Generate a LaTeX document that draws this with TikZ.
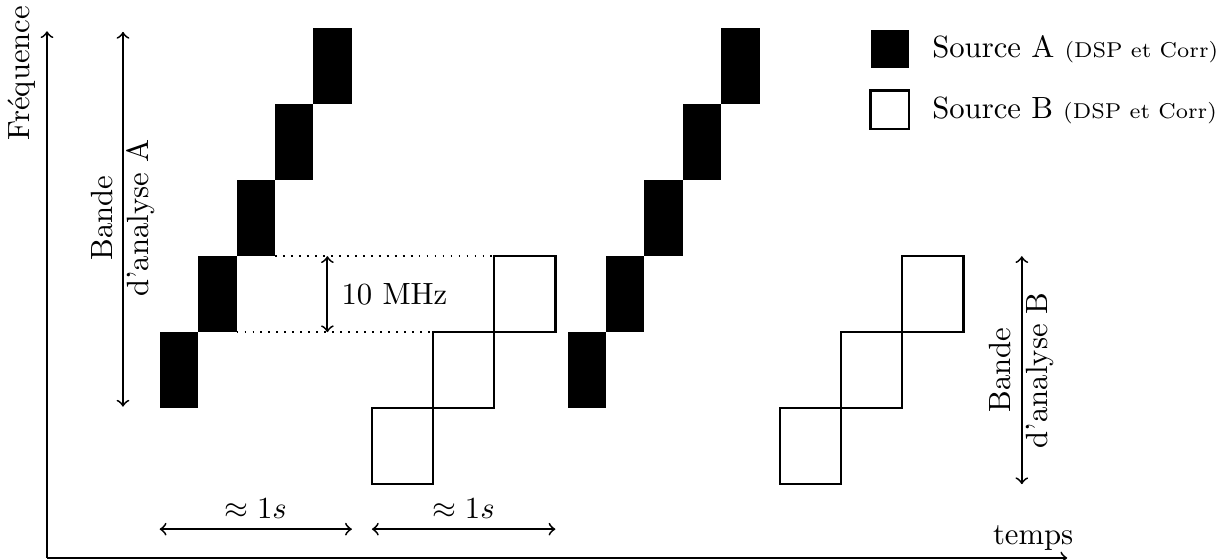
\documentclass[tikz,border=0pt]{standalone}
\usepackage{amsmath}
\usepackage{amssymb}
\usepackage{tikz}
\usetikzlibrary{positioning,calc}

\begin{document}
\begin{tikzpicture}[
  x=1cm, y=1cm,
  blocA/.style={fill=black, inner sep=0pt, outer sep=0pt, minimum width=0.44cm, minimum height=0.87cm},
  blocB/.style={draw, thick, fill=white, inner sep=0pt, outer sep=0pt, minimum width=0.7cm, minimum height=0.87cm},
  legende/.style={inner sep=0pt, outer sep=0pt, minimum size=0.44cm},
  axe/.style={->, semithick},
  fleche/.style={<->, semithick}
]
\useasboundingbox (-0.538,-0.015) rectangle (13.406,6.388);

% axes
\coordinate (origin) at (0, 0);
\coordinate (tfin)   at (11.68, 0);
\coordinate (ffin)   at (0, 6.03);
\draw[axe] (origin) -- (tfin);
\draw[axe] (origin) -- (ffin);
\node (temps) at (11.29, 0.23) {temps};
\node[rotate=90] (freq) at (-0.29, 5.55) {Fréquence};

% source B
\node[blocB] (b0) at (4.07, 1.28) {};
\node[blocB] (b1) at (4.77, 2.15) {};
\node[blocB] (b2) at (5.47, 3.02) {};
\node[blocB] (b3) at (8.74, 1.28) {};
\node[blocB] (b4) at (9.44, 2.15) {};
\node[blocB] (b5) at (10.14, 3.02) {};

% source A
\node[blocA] (a0) at (1.51, 2.15) {};
\node[blocA] (a1) at (1.95, 3.02) {};
\node[blocA] (a2) at (2.39, 3.89) {};
\node[blocA] (a3) at (2.83, 4.76) {};
\node[blocA] (a4) at (3.27, 5.63) {};
\node[blocA] (a5) at (6.18, 2.15) {};
\node[blocA] (a6) at (6.62, 3.02) {};
\node[blocA] (a7) at (7.06, 3.89) {};
\node[blocA] (a8) at (7.50, 4.76) {};
\node[blocA] (a9) at (7.94, 5.63) {};

% pas de 10 MHz
\draw[dotted, semithick] (a2.south east) -- (b2.north west);
\draw[dotted, semithick] (a1.south east) -- (b2.south west);
\coordinate (pas) at (3.21, 0);
\draw[fleche] (pas |- a1.south) -- (pas |- a2.south) node[midway, right=1pt] {10 MHz};

% bandes d'analyse
\coordinate (bandeA) at (0.87, 0);
\coordinate (bandeB) at (11.16, 0);
\draw[fleche, shorten <=0.5pt, shorten >=1.2pt] (bandeA |- a0.south) -- (bandeA |- a4.north)
  node[midway, rotate=90, align=center] {Bande\\d'analyse A};
\draw[fleche] (bandeB |- b3.south) -- (bandeB |- b5.north)
  node[midway, rotate=90, align=center] {Bande\\d'analyse B};

% durees
\coordinate (duree) at (0, 0.33);
\draw[fleche] (a0.west |- duree) -- (a4.east |- duree) node[midway, above] {$\approx 1s$};
\draw[fleche] (b0.west |- duree) -- (b2.east |- duree) node[midway, above] {$\approx 1s$};

% legende
\node[legende, fill=black]    (legA) at (9.65, 5.83) {};
\node[legende, draw, thick]   (legB) at (9.65, 5.13) {};
\node[right=4pt of legA] (txtA) {Source A {\scriptsize (DSP et Corr)}};
\node[right=4pt of legB] (txtB) {Source B {\scriptsize (DSP et Corr)}};
\end{tikzpicture}
\end{document}
